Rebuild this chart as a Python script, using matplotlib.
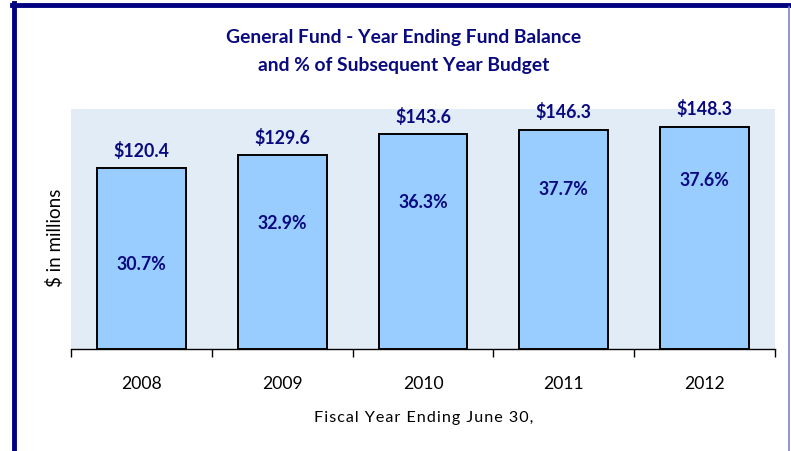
import numpy as np
import matplotlib
matplotlib.use("Agg")
import matplotlib.pyplot as plt
from matplotlib.lines import Line2D

plt.rcParams['font.family'] = ['Lato', 'DejaVu Sans']

years = ['2008', '2009', '2010', '2011', '2012']
balance = [120.4, 129.6, 143.6, 146.3, 148.3]      # $ millions
pct_budget = [30.7, 32.9, 36.3, 37.7, 37.6]        # % of subsequent year budget
pct_label_y = [56.7, 84.0, 98.0, 106.7, 113.3]     # where the % labels sit

navy = '#0A0A80'

fig = plt.figure(figsize=(7.91, 4.52), dpi=100)
ax = fig.add_axes([71/791, 1-350/452, (775-71)/791, (350-110)/452])

x = np.arange(len(years))
ax.bar(x, balance, width=0.63, color='#99CCFF', edgecolor='black', linewidth=1.4, zorder=3)
ax.set_facecolor('#E1ECF7')
ax.set_xlim(-0.5, len(years)-0.5)
ax.set_ylim(0, 160)

for xi, v in zip(x, balance):
    ax.annotate(f'${v:.1f}', (xi, v), xytext=(0, 13), textcoords='offset points',
                ha='center', va='center', fontsize=12.8, fontweight='bold', color=navy)
for xi, p, yl in zip(x, pct_budget, pct_label_y):
    ax.text(xi, yl, f'{p:.1f}%', ha='center', va='center', fontsize=12.8,
            fontweight='bold', color=navy, zorder=4)

for s in ['top', 'right', 'left']:
    ax.spines[s].set_visible(False)
ax.spines['bottom'].set_linewidth(1.0)
ax.set_yticks([])
ax.set_xticks(np.arange(-0.5, len(years)), minor=False)
ax.set_xticklabels([])
ax.tick_params(axis='x', length=6, width=1.0, direction='out')
for xi, yr in zip(x, years):
    ax.text(xi, -0.14, yr, transform=ax.get_xaxis_transform(), ha='center', va='center', fontsize=12.6)

# letter-spaced axis title, as in the original
xlabel = 'Fiscal Year Ending June 30,'
spaced = '\u200a'.join(xlabel).replace('\u200a \u200a', ' \u2009')
fig.text(55/791, 1-238/452, '$ in millions', rotation=90, ha='center', va='center', fontsize=13.5)
fig.text(424/791, 1-418/452, spaced, ha='center', va='center', fontsize=11.6)
fig.text(404/791, 1-38/452, 'General Fund - Year Ending Fund Balance', ha='center', va='center',
         fontsize=13.9, fontweight='bold', color=navy)
fig.text(404/791, 1-65/452, 'and % of Subsequent Year Budget', ha='center', va='center',
         fontsize=13.9, fontweight='bold', color=navy)

# frame around the chart
fig.add_artist(Line2D([14/791, 14/791], [0, 1-4/452], color='#000080', lw=3.5, transform=fig.transFigure))
fig.add_artist(Line2D([12/791, 1], [1-6/452, 1-6/452], color='#000080', lw=3.5, transform=fig.transFigure))
fig.add_artist(Line2D([789/791, 789/791], [0, 1-8/452], color='#8080D0', lw=1.2, transform=fig.transFigure))

fig.savefig('out.png', dpi=100)
